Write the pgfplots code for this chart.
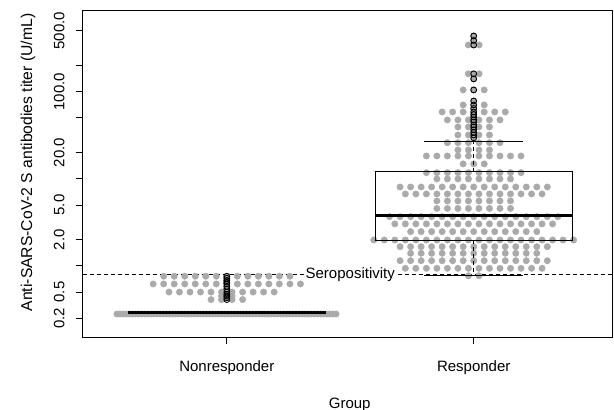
\documentclass[border=0pt]{standalone}
\usepackage{fontspec}
\setmainfont{Liberation Sans}
\usepackage{pgfplots}
\pgfplotsset{compat=1.18}
\definecolor{dotgray}{RGB}{170,170,170}
\begin{document}
\fontsize{15}{18}\selectfont
\begin{tikzpicture}
\useasboundingbox (0pt,0pt) rectangle (614pt,410pt);
\begin{axis}[
  at={(82.7pt,72.5pt)}, anchor=south west,
  width=529.8pt, height=326.8pt, scale only axis,
  clip marker paths=true,
  xmin=0.4163, xmax=2.5622,
  ymode=log, ymin=0.1505, ymax=848.5,
  xtick={1,2}, xticklabels={Nonresponder,Responder},
  ytick={0.25,0.5,1,2,5,10,20,50,100,200,500},
  yticklabels={0.2,0.5,,2.0,5.0,,20.0,,100.0,,500.0},
  minor tick num=0, yminorticks=false,
  tick pos=left, tick align=outside, major tick length=7pt,
  every tick/.style={black, line width=0.8pt},
  axis line style={line width=0.8pt},
  every tick label/.append style={font=\fontsize{15}{18}\selectfont},
  yticklabel style={rotate=90, anchor=south, inner sep=0pt},
  yticklabel shift=11pt,
  xticklabel style={anchor=north, inner sep=0pt},
  xticklabel shift=16pt,
]
% seropositivity line
\addplot+[no marks, black, solid, line width=0.8pt, dash pattern=on 4pt off 3pt] coordinates {(0.4163,0.8)(2.5622,0.8)};
% Nonresponder swarm
\addplot+[dotgray, only marks, mark=*, mark size=3.2pt, mark options={draw=dotgray, fill=dotgray}] coordinates {
(0.555,0.28)(0.5675,0.28)(0.58,0.28)(0.5925,0.28)(0.605,0.28)(0.6175,0.28)(0.63,0.28)(0.6425,0.28)(0.655,0.28)(0.6675,0.28)
(0.68,0.28)(0.6925,0.28)(0.705,0.28)(0.7175,0.28)(0.73,0.28)(0.7425,0.28)(0.755,0.28)(0.7675,0.28)(0.78,0.28)(0.7925,0.28)
(0.805,0.28)(0.8175,0.28)(0.83,0.28)(0.8425,0.28)(0.855,0.28)(0.8675,0.28)(0.88,0.28)(0.8925,0.28)(0.905,0.28)(0.9175,0.28)
(0.93,0.28)(0.9425,0.28)(0.955,0.28)(0.9675,0.28)(0.98,0.28)(0.9925,0.28)(1.005,0.28)(1.0175,0.28)(1.03,0.28)(1.0425,0.28)
(1.055,0.28)(1.0675,0.28)(1.08,0.28)(1.0925,0.28)(1.105,0.28)(1.1175,0.28)(1.13,0.28)(1.1425,0.28)(1.155,0.28)(1.1675,0.28)
(1.18,0.28)(1.1925,0.28)(1.205,0.28)(1.2175,0.28)(1.23,0.28)(1.2425,0.28)(1.255,0.28)(1.2675,0.28)(1.28,0.28)(1.2925,0.28)
(1.305,0.28)(1.3175,0.28)(1.33,0.28)(1.3425,0.28)(1.355,0.28)(1.3675,0.28)(1.38,0.28)(1.3925,0.28)(1.405,0.28)(1.4175,0.28)
(1.43,0.28)(1.4425,0.28)
(0.7444,0.76)(0.787,0.76)(0.8296,0.76)(0.8722,0.76)(0.9148,0.76)(0.9574,0.76)(1,0.76)(1.0426,0.76)(1.0852,0.76)(1.1278,0.76)(1.1704,0.76)(1.213,0.76)(1.2556,0.76)
(0.7018,0.62)(0.7444,0.62)(0.787,0.62)(0.8296,0.62)(0.8722,0.62)(0.9148,0.62)(0.9574,0.62)(1,0.62)(1.0426,0.62)(1.0852,0.62)(1.1278,0.62)(1.1704,0.62)(1.213,0.62)(1.2556,0.62)(1.2982,0.62)
(0.7657,0.50)(0.8083,0.50)(0.8509,0.50)(0.8935,0.50)(0.9361,0.50)(0.9787,0.50)(1.0213,0.50)(1.0639,0.50)(1.1065,0.50)(1.1491,0.50)(1.1917,0.50)
(0.9787,0.45)(1.0213,0.45)
(0.9361,0.41)(0.9787,0.41)(1.0213,0.41)(1.0639,0.41)
(1,0.72)(1,0.68)(1,0.65)(1,0.58)(1,0.54)(1,0.47)(1,0.43)
};
% Responder swarm
\addplot+[dotgray, only marks, mark=*, mark size=3.2pt, mark options={draw=dotgray, fill=dotgray}] coordinates {
(2,435)(2,386)
(1.978,343)(2,343)(2.022,343)
(1.978,160)(2,160)(2.022,160)
(2,140)
(1.9574,104.5)(2,104.5)(2.0426,104.5)
(2,78)
(1.9574,70.3)(2,70.3)(2.0426,70.3)
(2,64)
(1.8722,58.4)(1.9148,58.4)(1.9574,58.4)(2,58.4)(2.0426,58.4)(2.0852,58.4)(2.1278,58.4)
(2,54.5)(2,51)
(1.8935,47.3)(1.9361,47.3)(1.9787,47.3)(2,47.3)(2.0213,47.3)(2.0639,47.3)(2.1065,47.3)
(2,44.8)(2,41.4)
(1.9361,39.3)(1.9787,39.3)(2,39.3)(2.0213,39.3)(2.0639,39.3)
(2,36.5)(2,34)
(1.9361,31.8)(1.9787,31.8)(2,31.8)(2.0213,31.8)(2.0639,31.8)
(2,29.5)
(1.8935,25.9)(1.9361,25.9)(1.9787,25.9)(2.0213,25.9)(2.0639,25.9)(2.1065,25.9)
(1.9361,21.4)(1.9787,21.4)(2.0213,21.4)(2.0639,21.4)
(1.8083,18.25)(1.8509,18.25)(1.8935,18.25)(1.9361,18.25)(1.9787,18.25)(2.0213,18.25)(2.0639,18.25)(2.1065,18.25)(2.1491,18.25)(2.1917,18.25)
(1.9574,14.8)(2,14.8)(2.0426,14.8)
(1.8083,11.74)(1.8509,11.74)(1.8935,11.74)(1.9361,11.74)(1.9787,11.74)(2.0213,11.74)(2.0639,11.74)(2.1065,11.74)(2.1491,11.74)(2.1917,11.74)
(1.8509,9.94)(1.8935,9.94)(1.9361,9.94)(1.9787,9.94)(2.0213,9.94)(2.0639,9.94)(2.1065,9.94)(2.1491,9.94)
(1.7018,8.04)(1.7444,8.04)(1.787,8.04)(1.8296,8.04)(1.8722,8.04)(1.9148,8.04)(1.9574,8.04)(2,8.04)(2.0426,8.04)(2.0852,8.04)(2.1278,8.04)(2.1704,8.04)(2.213,8.04)(2.2556,8.04)(2.2982,8.04)
(1.7231,6.69)(1.7657,6.69)(1.8083,6.69)(1.8509,6.69)(1.8935,6.69)(1.9361,6.69)(1.9787,6.69)(2.0213,6.69)(2.0639,6.69)(2.1065,6.69)(2.1491,6.69)(2.1917,6.69)(2.2343,6.69)(2.2769,6.69)
(1.8509,5.56)(1.8935,5.56)(1.9361,5.56)(1.9787,5.56)(2.0213,5.56)(2.0639,5.56)(2.1065,5.56)(2.1491,5.56)
(1.8509,4.56)(1.8935,4.56)(1.9361,4.56)(1.9787,4.56)(2.0213,4.56)(2.0639,4.56)(2.1065,4.56)(2.1491,4.56)
(1.6592,3.67)(1.7018,3.67)(1.7444,3.67)(1.787,3.67)(1.8296,3.67)(1.8722,3.67)(1.9148,3.67)(1.9574,3.67)(2,3.67)(2.0426,3.67)(2.0852,3.67)(2.1278,3.67)(2.1704,3.67)(2.213,3.67)(2.2556,3.67)(2.2982,3.67)(2.3408,3.67)
(1.6805,3.03)(1.7231,3.03)(1.7657,3.03)(1.8083,3.03)(1.8509,3.03)(1.8935,3.03)(1.9361,3.03)(1.9787,3.03)(2.0213,3.03)(2.0639,3.03)(2.1065,3.03)(2.1491,3.03)(2.1917,3.03)(2.2343,3.03)(2.2769,3.03)(2.3195,3.03)
(1.7444,2.47)(1.787,2.47)(1.8296,2.47)(1.8722,2.47)(1.9148,2.47)(1.9574,2.47)(2,2.47)(2.0426,2.47)(2.0852,2.47)(2.1278,2.47)(2.1704,2.47)(2.213,2.47)(2.2556,2.47)
(1.5953,1.98)(1.6379,1.98)(1.6805,1.98)(1.7231,1.98)(1.7657,1.98)(1.8083,1.98)(1.8509,1.98)(1.8935,1.98)(1.9361,1.98)(1.9787,1.98)(2.0213,1.98)(2.0639,1.98)(2.1065,1.98)(2.1491,1.98)(2.1917,1.98)(2.2343,1.98)(2.2769,1.98)(2.3195,1.98)(2.3621,1.98)(2.4047,1.98)
(1.7018,1.66)(1.7444,1.66)(1.787,1.66)(1.8296,1.66)(1.8722,1.66)(1.9148,1.66)(1.9574,1.66)(2,1.66)(2.0426,1.66)(2.0852,1.66)(2.1278,1.66)(2.1704,1.66)(2.213,1.66)(2.2556,1.66)(2.2982,1.66)
(1.7444,1.394)(1.787,1.394)(1.8296,1.394)(1.8722,1.394)(1.9148,1.394)(1.9574,1.394)(2,1.394)(2.0426,1.394)(2.0852,1.394)(2.1278,1.394)(2.1704,1.394)(2.213,1.394)(2.2556,1.394)
(1.7018,1.146)(1.7444,1.146)(1.787,1.146)(1.8296,1.146)(1.8722,1.146)(1.9148,1.146)(1.9574,1.146)(2,1.146)(2.0426,1.146)(2.0852,1.146)(2.1278,1.146)(2.1704,1.146)(2.213,1.146)(2.2556,1.146)(2.2982,1.146)
(1.7231,0.937)(1.7657,0.937)(1.8083,0.937)(1.8509,0.937)(1.8935,0.937)(1.9361,0.937)(1.9787,0.937)(2.0213,0.937)(2.0639,0.937)(2.1065,0.937)(2.1491,0.937)(2.1917,0.937)(2.2343,0.937)(2.2769,0.937)
(1.9787,0.77)(2.0213,0.77)
};
% Nonresponder box (collapsed: quartiles and median equal)
\addplot+[no marks, black, solid, line width=0.8pt] coordinates {(0.6,0.295)(1.4,0.295)};
\addplot+[no marks, black, solid, line width=3pt] coordinates {(0.6,0.295)(1.4,0.295)};
% Responder box
\addplot+[no marks, black, solid, line width=0.8pt] coordinates {(1.6,1.955)(2.4,1.955)(2.4,12.05)(1.6,12.05)(1.6,1.955)};
\addplot+[no marks, black, solid, line width=3pt] coordinates {(1.6,3.81)(2.4,3.81)};
\addplot+[no marks, black, line width=0.8pt, dash pattern=on 4pt off 3pt] coordinates {(2,12.05)(2,26.6)};
\addplot+[no marks, black, line width=0.8pt, dash pattern=on 4pt off 3pt] coordinates {(2,1.955)(2,0.77)};
\addplot+[no marks, black, solid, line width=0.8pt] coordinates {(1.8,26.6)(2.2,26.6)};
\addplot+[no marks, black, solid, line width=0.8pt] coordinates {(1.8,0.77)(2.2,0.77)};
% outliers
\addplot+[black, only marks, mark=o, mark size=2.9pt, mark options={draw=black, solid, line width=0.9pt}] coordinates {
(1,0.76)(1,0.72)(1,0.68)(1,0.65)(1,0.62)(1,0.58)(1,0.54)(1,0.50)(1,0.47)(1,0.45)(1,0.43)(1,0.41)
(2,435)(2,386)(2,343)(2,160)(2,140)(2,104.5)(2,78)(2,70.3)(2,64)(2,58.4)(2,54.5)(2,51)(2,47.3)(2,44.8)(2,41.4)(2,39.3)(2,36.5)(2,34)(2,31.8)(2,29.5)
};
\node[fill=white, inner sep=1pt, font=\fontsize{15}{18}\selectfont] at (axis cs:1.5,0.8) {Seropositivity};
\end{axis}
\node[rotate=90, anchor=base, font=\fontsize{15.7}{18}\selectfont] at (32pt,247.5pt) {Anti-SARS-CoV-2 S antibodies titer (U/mL)};
\node[anchor=base, font=\fontsize{15}{18}\selectfont] at (349.7pt,1pt) {Group};
\end{tikzpicture}
\end{document}
